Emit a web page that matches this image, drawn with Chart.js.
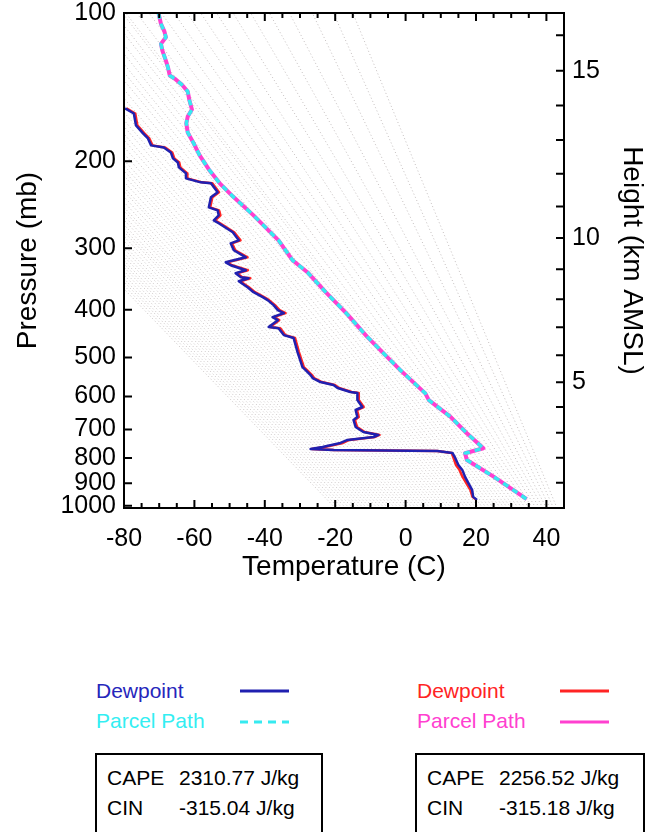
<!DOCTYPE html>
<html>
<head>
<meta charset="utf-8">
<script src="https://cdn.jsdelivr.net/npm/chart.js@4.4.1/dist/chart.umd.min.js"></script>
<style>
  body { margin: 0; background: #fff; width: 647px; height: 832px; overflow: hidden; position: relative;
         font-family: 'Liberation Sans', Arial, Helvetica, sans-serif; }
  #wrap { position: absolute; left: 0; top: 0; width: 647px; height: 600px; }
  .t { position: absolute; font-size: 21px; line-height: 21px; white-space: nowrap; color: #000; }
  .box { position: absolute; top: 753px; height: 110px; border: 2px solid #000; box-sizing: border-box; }
</style>
</head>
<body>
<div id="wrap"><canvas id="sounding" width="647" height="600"></canvas></div>

<div class="t" style="left:96px;top:680px;color:#2626bb">Dewpoint</div>
<div class="t" style="left:96px;top:710px;color:#33eef2">Parcel Path</div>
<div class="t" style="left:417px;top:680px;color:#ff2424">Dewpoint</div>
<div class="t" style="left:417px;top:710px;color:#ff40d0">Parcel Path</div>
<svg style="position:absolute;left:0;top:660px" width="647" height="80">
  <line x1="240" y1="31" x2="289" y2="31" stroke="#2020b0" stroke-width="3"/>
  <line x1="240" y1="62" x2="289" y2="62" stroke="#36eaf0" stroke-width="3" stroke-dasharray="8,6"/>
  <line x1="560" y1="31" x2="609" y2="31" stroke="#ff2424" stroke-width="3"/>
  <line x1="560" y1="62" x2="609" y2="62" stroke="#ff40d0" stroke-width="3"/>
</svg>

<div class="box" style="left:95px;width:228px"></div>
<div class="box" style="left:415px;width:230px"></div>
<div class="t" style="left:107px;top:767px">CAPE</div>
<div class="t" style="left:179px;top:767px">2310.77 J/kg</div>
<div class="t" style="left:107px;top:797px">CIN</div>
<div class="t" style="left:179px;top:797px">-315.04 J/kg</div>
<div class="t" style="left:427px;top:767px">CAPE</div>
<div class="t" style="left:499px;top:767px">2256.52 J/kg</div>
<div class="t" style="left:427px;top:797px">CIN</div>
<div class="t" style="left:499px;top:797px">-315.18 J/kg</div>

<script>
// axis ticks
const pressureTicks = [100, 200, 300, 400, 500, 600, 700, 800, 900, 1000];
const heightKm = [1, 2, 3, 4, 5, 6, 7, 8, 9, 10, 11, 12, 13, 14, 15, 16];
const heightPressure = [898, 799, 711, 630, 561, 495, 434, 381, 331, 286, 247, 212, 181, 154, 131, 111];

// dewpoint profiles (shared pressure levels, mb)
const dewP = [156.2, 159.9, 169.1, 175.5, 179.7, 185.6, 187.4, 191.8, 197.2, 201.0,
  205.7, 211.5, 216.5, 220.6, 221.6, 231.1, 236.6, 247.9, 251.4, 257.3,
  263.4, 267.1, 278.6, 289.2, 293.3, 303.0, 313.1, 320.5, 325.0, 332.6,
  337.3, 343.7, 345.2, 350.1, 360.0, 368.5, 377.2, 382.5, 391.5, 400.7,
  406.4, 414.1, 420.0, 433.8, 435.9, 450.3, 456.6, 487.5, 523.0, 530.2,
  542.7, 550.4, 560.7, 568.6, 576.7, 587.5, 590.2, 609.8, 630.1, 639.0,
  660.1, 669.4, 691.6, 708.0, 718.0, 724.8, 735.0, 745.4, 759.4, 766.5,
  770.0, 773.7, 780.9, 799.4, 825.9, 845.3, 873.4, 898.1, 927.9, 958.8, 972.4];
const dewBlue = [-79.7, -77.2, -76.6, -74.6, -73.2, -72.3, -68.7, -66.7, -66.1, -64.7,
  -64.4, -62.4, -62.4, -58.2, -55.3, -53.4, -55.3, -55.9, -53.4, -53.1,
  -54.5, -53.1, -49.1, -47.4, -49.7, -48.8, -45.4, -51.1, -49.7, -45.4,
  -48.3, -46.8, -44.6, -47.4, -44.9, -43.2, -40.6, -39.2, -37.5, -36.3,
  -34.6, -37.8, -36.3, -38.9, -36.1, -34.6, -31.8, -30.7, -29.3, -28.4,
  -27.0, -26.4, -24.2, -20.5, -19.3, -15.7, -13.7, -13.7, -12.3, -14.2,
  -13.7, -14.8, -14.2, -12.0, -7.7, -9.1, -16.5, -18.5, -23.6, -27.0,
  -20.5, 9.0, 13.3, 14.1, 15.0, 16.1, 16.9, 17.8, 18.9, 19.2, 20.3];
const dewRed = [-79.3, -76.8, -76.2, -74.2, -72.8, -71.9, -68.3, -66.3, -65.7, -64.3,
  -64.0, -62.0, -62.0, -57.8, -54.9, -53.0, -54.9, -55.5, -53.0, -52.6,
  -54.1, -52.7, -48.7, -46.9, -49.3, -48.4, -44.9, -50.7, -49.3, -44.8,
  -47.9, -46.4, -44.1, -47.0, -44.5, -42.8, -40.2, -38.8, -37.1, -35.8,
  -34.1, -37.4, -35.9, -38.5, -35.6, -34.2, -31.4, -30.3, -28.9, -28.0,
  -26.6, -26.0, -23.8, -20.1, -18.9, -15.3, -13.3, -13.3, -11.9, -13.8,
  -13.3, -14.4, -13.8, -11.6, -7.4, -8.7, -16.0, -17.8, -23.0, -26.6,
  -20.3, 9.0, 13.1, 13.6, 14.3, 15.3, 16.2, 17.2, 18.4, 19.0, 20.1];

// parcel path (both runs coincide)
const parcelP = [100, 105.2, 109.1, 112.0, 115.5, 119.2, 124.9, 129.0, 133.9, 136.4,
  139.7, 144.3, 150.5, 157.0, 162.2, 167.5, 174.7, 183.9, 194.5, 207.7,
  221.6, 235.5, 257.4, 289.2, 317.5, 335.7, 368.5, 408.3, 454.0, 499.0,
  530.3, 591.2, 610.0, 659.2, 712.3, 764.0, 782.1, 807.0, 872.2, 969.2];
const parcelT = [-70.2, -69.5, -68.5, -68.1, -69.5, -69.1, -68.1, -67.5, -67.0, -65.3,
  -63.6, -61.9, -61.4, -60.7, -61.9, -62.3, -61.9, -60.2, -58.5, -55.9,
  -52.8, -49.1, -43.2, -36.1, -32.1, -27.9, -22.7, -16.6, -10.9, -5.2,
  -1.5, 5.6, 6.6, 12.7, 17.4, 22.1, 16.9, 17.4, 25.0, 34.4];

// dotted moist adiabats: temperature at the bottom, and where each leaves the plot
const adiabatBaseT = [-20, -19, -18, -17, -16, -15, -14, -13, -12, -11,
  -10, -9, -8, -7, -6, -5, -4, -3, -2, -1,
  0, 1, 2, 3, 4, 5, 6, 7, 8, 9,
  10, 11, 12, 13, 14, 15, 16, 17, 18, 19,
  20, 21, 22, 23, 24, 25, 26, 27, 28, 29,
  30, 31, 32, 33, 34, 35, 36, 37, 38, 39,
  40, 41, 42, 43];
// pressure where the colder ones reach -80 C (left edge)
const adiabatLeftP = [363, 357, 351, 346, 340, 334, 328, 323, 318, 312,
  307, 301, 296, 290, 284, 278, 274, 269, 263, 258,
  252, 248, 242, 236, 230, 226, 220, 214, 209, 204,
  199, 193, 187, 181, 176, 170, 165, 159, 154, 149,
  143, 137, 132, 127, 121, 116, 110, 106, 101];
// temperature where the warmer ones reach 100 mb (top edge)
const adiabatTopT = [-79.5, -76.4, -72.9, -69.4, -65.8, -62.1, -58.2, -53.7,
  -49.0, -44.0, -38.7, -33.0, -26.5, -20.5, -15.0];

const datasets = [];
adiabatBaseT.forEach(function (t, i) {
  const end = i < adiabatLeftP.length
    ? { x: -80, y: adiabatLeftP[i] }
    : { x: adiabatTopT[i - adiabatLeftP.length], y: 100 };
  datasets.push({
    data: [{ x: t, y: 1010 }, end],
    borderColor: 'rgba(140,128,128,0.5)',
    borderWidth: 1,
    borderDash: [1, 2.5],
    pointRadius: 0,
    order: 10,
    clip: 0
  });
});

datasets.push({
  data: dewP.map((p, i) => ({ x: dewRed[i], y: p })),
  borderColor: '#ff2424', borderWidth: 2.5, pointRadius: 0, order: 4
});
datasets.push({
  data: dewP.map((p, i) => ({ x: dewBlue[i], y: p })),
  borderColor: '#2020b0', borderWidth: 2.5, pointRadius: 0, order: 3
});
datasets.push({
  data: parcelP.map((p, i) => ({ x: parcelT[i], y: p })),
  borderColor: '#ff40d0', borderWidth: 4, pointRadius: 0, order: 2
});
datasets.push({
  data: parcelP.map((p, i) => ({ x: parcelT[i], y: p })),
  borderColor: '#36eaf0', borderWidth: 3.5, borderDash: [6, 5], pointRadius: 0, order: 1
});

// frame and inward tick marks like the original plot
const frameTicks = {
  id: 'frameTicks',
  afterDatasetsDraw(chart) {
    const { ctx, chartArea: a, scales } = chart;
    ctx.save();
    ctx.strokeStyle = '#000';
    ctx.lineWidth = 2;
    ctx.beginPath();
    scales.x.ticks.forEach(function (t) {
      const px = scales.x.getPixelForValue(t.value);
      const len = Math.round(t.value) % 20 === 0 ? 8 : 5;
      ctx.moveTo(px, a.bottom); ctx.lineTo(px, a.bottom - len);
      ctx.moveTo(px, a.top); ctx.lineTo(px, a.top + len);
    });
    scales.y.ticks.forEach(function (t) {
      const py = scales.y.getPixelForValue(t.value);
      ctx.moveTo(a.left, py); ctx.lineTo(a.left + 8, py);
    });
    scales.y2.ticks.forEach(function (t) {
      const py = scales.y2.getPixelForValue(t.value);
      ctx.moveTo(a.right, py); ctx.lineTo(a.right - 8, py);
    });
    ctx.stroke();
    ctx.strokeRect(a.left, a.top, a.right - a.left, a.bottom - a.top);
    ctx.restore();
  }
};

Chart.defaults.font.family = "'Liberation Sans', Arial, Helvetica, sans-serif";
Chart.defaults.color = '#000';
Chart.defaults.elements.line.borderJoinStyle = 'round';

const tickFont = { size: 25 };
const titleFont = { size: 28, lineHeight: 1 };

function noEdgePadding(s) {
  s.paddingTop = 0; s.paddingBottom = 0; s.paddingLeft = 0; s.paddingRight = 0;
}

new Chart(document.getElementById('sounding'), {
  type: 'line',
  data: { datasets: datasets },
  options: {
    responsive: false,
    animation: false,
    devicePixelRatio: 1,
    layout: { padding: { top: 13, left: 0, right: 0, bottom: 0 } },
    plugins: { legend: { display: false }, tooltip: { enabled: false } },
    elements: { line: { tension: 0 } },
    scales: {
      x: {
        type: 'linear', position: 'bottom', min: -80, max: 45,
        afterFit(s) { s.height = 92; noEdgePadding(s); },
        grid: { display: false, drawTicks: false },
        border: { display: false },
        ticks: {
          stepSize: 5, autoSkip: false, maxRotation: 0, padding: 16, font: tickFont,
          callback: (v) => (Math.round(v) % 20 === 0 ? String(Math.round(v)) : '')
        },
        title: { display: true, text: 'Temperature (C)', font: titleFont, padding: { top: 0, bottom: 19 } }
      },
      y: {
        type: 'logarithmic', position: 'left', reverse: true, min: 100, max: 1010,
        afterBuildTicks(s) { s.ticks = pressureTicks.map((v) => ({ value: v })); },
        afterFit(s) { s.width = 124; noEdgePadding(s); },
        grid: { display: false, drawTicks: false },
        border: { display: false },
        ticks: { autoSkip: false, padding: 8, font: tickFont, callback: (v) => String(v) },
        title: { display: true, text: 'Pressure (mb)', font: titleFont, padding: { top: 14, bottom: 0 } }
      },
      y2: {
        type: 'logarithmic', position: 'right', reverse: true, min: 100, max: 1010,
        afterBuildTicks(s) { s.ticks = heightPressure.map((v) => ({ value: v })); },
        afterFit(s) { s.width = 83; noEdgePadding(s); },
        grid: { display: false, drawTicks: false },
        border: { display: false },
        ticks: {
          autoSkip: false, padding: 8, font: tickFont,
          callback: (v, i) => (heightKm[i] % 5 === 0 ? String(heightKm[i]) : '')
        },
        title: { display: true, text: 'Height (km AMSL)', font: titleFont, padding: { top: 1, bottom: 0 } }
      }
    }
  },
  plugins: [frameTicks]
});
</script>
</body>
</html>
